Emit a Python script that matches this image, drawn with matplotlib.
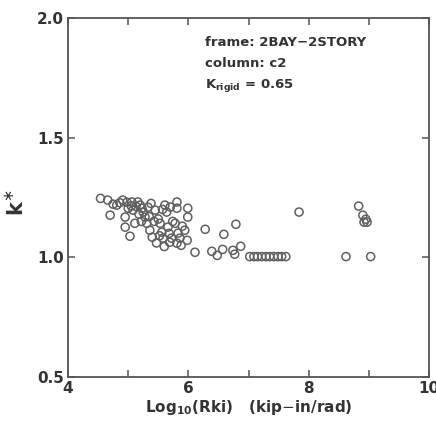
import matplotlib
matplotlib.use("Agg")
import matplotlib.pyplot as plt
from matplotlib.ticker import FixedLocator, FuncFormatter

# log10 of connection stiffness (kip-in/rad) and normalised stiffness k*
log_rki = [
    4.54, 4.66, 4.70, 4.75, 4.81, 4.86, 4.91, 4.95, 4.95, 5.00, 5.03, 5.06, 5.08, 5.11,
    5.16, 5.20, 5.23, 5.28, 5.31, 5.33, 5.36, 5.40, 5.45, 5.50, 5.53, 5.56, 5.58, 5.61,
    5.64, 5.66, 5.69, 5.72, 5.81, 5.81, 5.78, 5.83, 5.81, 5.94, 5.98, 5.99, 5.99,
    4.98, 5.13, 5.25, 5.38, 5.47, 5.52, 5.60, 5.68, 5.74, 5.88, 5.90, 5.43, 5.18, 5.35,
    5.05, 5.22, 5.57, 5.70, 5.86,
    6.11, 6.28, 6.39, 6.48, 6.59, 6.57, 6.79, 6.74, 6.77, 6.87,
    7.02, 7.09, 7.15, 7.22, 7.29, 7.35, 7.42, 7.49, 7.55, 7.62,
    7.84, 8.83, 8.90, 8.95, 8.92, 8.97, 8.62, 9.03,
]
k_star = [
    1.246, 1.239, 1.176, 1.222, 1.218, 1.228, 1.239, 1.168, 1.126, 1.205, 1.088, 1.231, 1.197, 1.142,
    1.231, 1.218, 1.205, 1.168, 1.142, 1.209, 1.113, 1.084, 1.197, 1.160, 1.142, 1.105, 1.080, 1.218,
    1.189, 1.126, 1.063, 1.080, 1.231, 1.205, 1.142, 1.101, 1.059, 1.113, 1.071, 1.205, 1.168,
    1.230, 1.213, 1.189, 1.225, 1.060, 1.090, 1.045, 1.100, 1.150, 1.050, 1.130, 1.150, 1.180, 1.170,
    1.215, 1.150, 1.200, 1.210, 1.080,
    1.021, 1.117, 1.025, 1.008, 1.096, 1.033, 1.138, 1.029, 1.013, 1.046,
    1.003, 1.003, 1.003, 1.003, 1.003, 1.003, 1.003, 1.003, 1.003, 1.003,
    1.189, 1.214, 1.176, 1.159, 1.147, 1.147, 1.003, 1.003,
]

x_range = (4, 10)
y_range = (0.5, 2.0)
x_ticks = [4, 5, 6, 7, 8, 9, 10]
x_labelled = [4, 6, 8, 10]
y_ticks = [0.5, 1.0, 1.5, 2.0]

info_lines = ["frame: 2BAY\u22122STORY", "column: c2", r"K$_{\mathbf{rigid}}$ = 0.65"]

ink = "#333333"
plt.rcParams["font.family"] = ["DejaVu Sans"]
plt.rcParams["mathtext.fontset"] = "dejavusans"

fig = plt.figure(figsize=(4.36, 4.26), dpi=100)
ax = fig.add_axes([0.156, 0.115, 0.828, 0.843])

ax.scatter(log_rki, k_star, s=34, facecolors="none", edgecolors="#606060",
           linewidths=1.1, zorder=3)

ax.set_xlim(*x_range)
ax.set_ylim(*y_range)
ax.xaxis.set_major_locator(FixedLocator(x_ticks))
ax.xaxis.set_major_formatter(FuncFormatter(
    lambda v, p: f"{int(round(v))}" if int(round(v)) in x_labelled else ""))
ax.yaxis.set_major_locator(FixedLocator(y_ticks))
ax.yaxis.set_major_formatter(FuncFormatter(lambda v, p: f"{v:.1f}"))

ax.tick_params(direction="in", length=5, width=1.1, color="#555555",
               top=True, right=True, labelsize=11, labelcolor=ink, pad=3)
for lab in ax.get_xticklabels() + ax.get_yticklabels():
    lab.set_fontweight("bold")
for sp in ax.spines.values():
    sp.set_color("#555555")
    sp.set_linewidth(1.3)

ax.set_xlabel(r"Log$_{\mathbf{10}}$(Rki)   (kip$-$in/rad)", fontsize=11,
              fontweight="bold", color=ink, labelpad=1)
ax.set_ylabel(r"$\mathbf{k}^{\ast}$", fontsize=15, color=ink)
ax.yaxis.set_label_coords(-0.11, 0.485)

for i, line in enumerate(info_lines):
    ax.text(0.38, 0.932 - i * 0.06, line, transform=ax.transAxes, fontsize=9.5,
            fontweight="bold", color=ink, ha="left", va="center")

fig.savefig("out.png", dpi=100)
